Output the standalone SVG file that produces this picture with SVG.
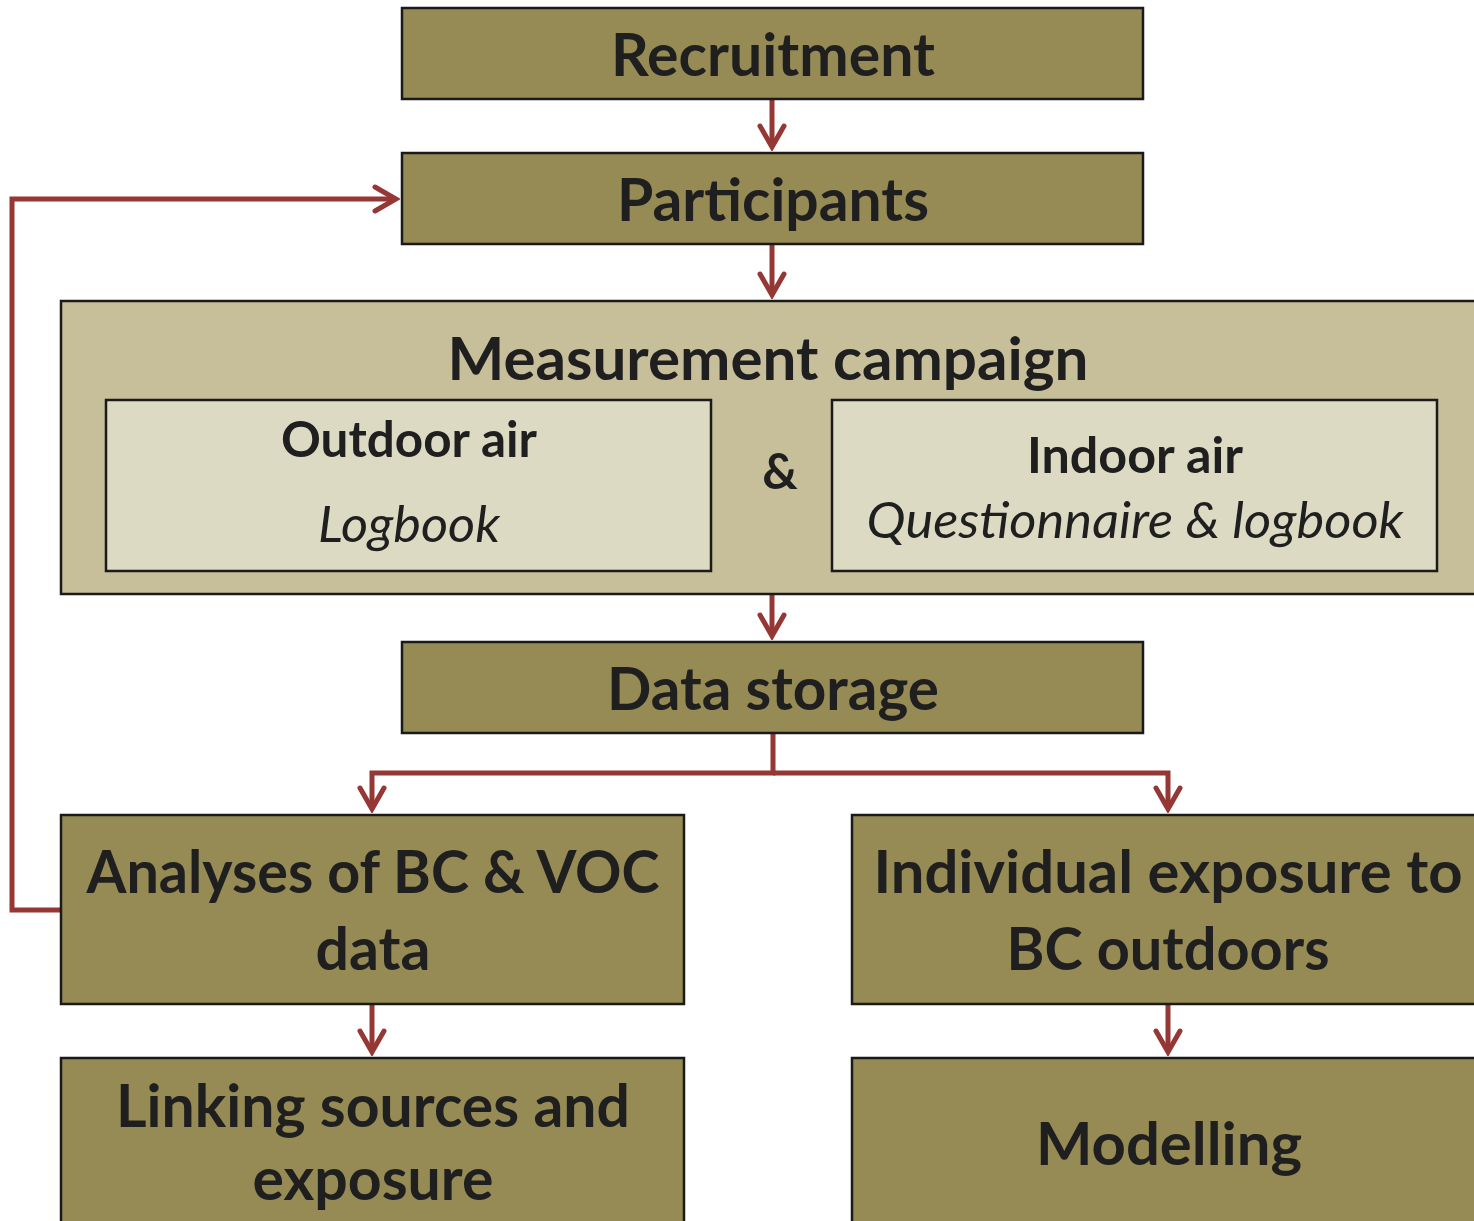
<svg xmlns="http://www.w3.org/2000/svg" width="1474" height="1221" viewBox="0 0 1474 1221">
<defs>
<style>
.box{fill:#968B54;stroke:#1a1a1a;stroke-width:2.5}
.camp{fill:#C6BF9A;stroke:#1a1a1a;stroke-width:2.5}
.inner{fill:#DDDAC4;stroke:#1a1a1a;stroke-width:2.5}
.t{font-family:Lato,"Open Sans","DejaVu Sans",sans-serif;font-weight:bold;fill:#1f1f1f;text-anchor:middle}
.big{font-size:59px}
.mid{font-size:49px}
.it{font-family:Lato,"Open Sans","DejaVu Sans",sans-serif;font-style:italic;font-size:50px;fill:#1f1f1f;text-anchor:middle}
.c{fill:none;stroke:#953735;stroke-width:5;stroke-linejoin:miter}
</style>
<marker id="ah" viewBox="-28 -16 32 32" refX="0" refY="0" markerWidth="32" markerHeight="32" markerUnits="userSpaceOnUse" orient="auto">
<path d="M-21,-12 L0,0 L-21,12" fill="none" stroke="#953735" stroke-width="5" stroke-linecap="round" stroke-linejoin="miter"/>
</marker>
</defs>
<g id="connectors">
<path class="c" d="M772,99 V147" marker-end="url(#ah)"/>
<path class="c" d="M772,244 V295" marker-end="url(#ah)"/>
<path class="c" d="M772,594 V636" marker-end="url(#ah)"/>
<path class="c" d="M773,733 V773 H372 V809" marker-end="url(#ah)"/>
<path class="c" d="M773,773 H1168 V809" marker-end="url(#ah)"/>
<path class="c" d="M372,1004 V1052" marker-end="url(#ah)"/>
<path class="c" d="M1168,1004 V1052" marker-end="url(#ah)"/>
<path class="c" d="M61,910 H12 V199 H396" marker-end="url(#ah)"/>
</g>
<g id="recruitment"><rect class="box" x="402" y="8" width="741" height="91"/><text class="t big" x="773" y="76" textLength="324" lengthAdjust="spacingAndGlyphs">Recruitment</text></g>
<g id="participants"><rect class="box" x="402" y="153" width="741" height="91"/><text class="t big" x="773" y="221" textLength="312" lengthAdjust="spacingAndGlyphs">Participants</text></g>
<g id="campaign"><rect class="camp" x="61" y="301" width="1420" height="293"/><text class="t big" x="768" y="380" textLength="641" lengthAdjust="spacingAndGlyphs">Measurement campaign</text>
<text class="t mid" x="780" y="489">&amp;</text></g>
<g id="outdoor"><rect class="inner" x="106" y="400" width="605" height="171"/><text class="t mid" x="409" y="457" textLength="256" lengthAdjust="spacingAndGlyphs">Outdoor air</text><text class="it" x="409" y="542" textLength="182" lengthAdjust="spacingAndGlyphs">Logbook</text></g>
<g id="indoor"><rect class="inner" x="832" y="400" width="605" height="171"/><text class="t mid" x="1135" y="473" textLength="216" lengthAdjust="spacingAndGlyphs">Indoor air</text><text class="it" x="1135" y="538" textLength="537" lengthAdjust="spacingAndGlyphs">Questionnaire &amp; logbook</text></g>
<g id="datastorage"><rect class="box" x="402" y="642" width="741" height="91"/><text class="t big" x="773" y="710" textLength="332" lengthAdjust="spacingAndGlyphs">Data storage</text></g>
<g id="analyses"><rect class="box" x="61" y="815" width="623" height="189"/><text class="t big" x="373" y="893" textLength="573" lengthAdjust="spacingAndGlyphs">Analyses of BC &amp; VOC</text><text class="t big" x="373" y="970">data</text></g>
<g id="individual"><rect class="box" x="852" y="815" width="630" height="189"/><text class="t big" x="1168" y="893" textLength="589" lengthAdjust="spacingAndGlyphs">Individual exposure to</text><text class="t big" x="1168" y="970" textLength="323" lengthAdjust="spacingAndGlyphs">BC outdoors</text></g>
<g id="linking"><rect class="box" x="61" y="1058" width="623" height="170"/><text class="t big" x="373" y="1127" textLength="514" lengthAdjust="spacingAndGlyphs">Linking sources and</text><text class="t big" x="373" y="1200" textLength="241" lengthAdjust="spacingAndGlyphs">exposure</text></g>
<g id="modelling"><rect class="box" x="852" y="1058" width="630" height="170"/><text class="t big" x="1169" y="1165" textLength="266" lengthAdjust="spacingAndGlyphs">Modelling</text></g>
</svg>
